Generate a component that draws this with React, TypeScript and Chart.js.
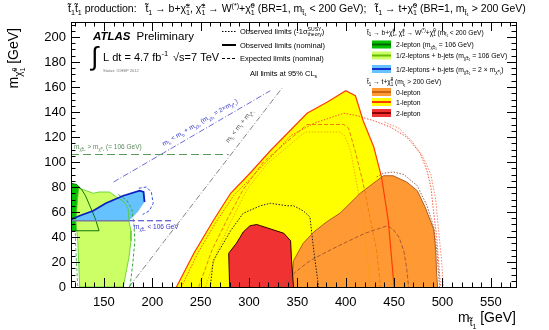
import React, { useEffect, useRef } from "react";
import { Chart, registerables } from "chart.js";

Chart.register(...registerables);

type P = [number, number];

// ---------------- axis ranges & ticks ----------------
const xRange: P = [116, 576];
const yRange: P = [0, 212];
const xTickValues = [150, 200, 250, 300, 350, 400, 450, 500, 550];
const yTickValues = [0, 20, 40, 60, 80, 100, 120, 140, 160, 180, 200];

// ---------------- t1 -> t + chi0 : 1-lepton ----------------
const oneLepObs: P[] = [[225, 0], [243, 27], [263, 53], [281, 75], [301, 91], [322, 109], [336, 120], [360, 139], [381, 148], [400, 157], [410, 153], [418, 133], [429, 112], [437, 88], [444, 53], [450, 0]];
const oneLepExp: P[] = [[248, 0], [262, 30], [278, 55], [294, 78], [315, 100], [339, 116], [360, 130], [398, 130], [403, 127], [410, 108], [418, 83], [425, 56], [432, 29], [436, 0]];
const oneLepExpB: P[] = [[255, 0], [268, 30], [283, 55], [298, 78], [318, 98], [341, 113], [358, 124], [394, 124], [399, 121], [405, 109], [412, 80], [419, 50], [425, 0]];
const oneLepM1: P[] = [[230, 0], [247, 27], [266, 52], [284, 73], [304, 89], [324, 105], [343, 121], [367, 131], [398, 139], [412, 137], [429, 133], [446, 128], [463, 120], [477, 107], [484, 93], [488, 80], [491, 59], [494, 40], [496, 20], [498, 0]];
const oneLepM1b: P[] = [[440, 132], [455, 127], [468, 117], [480, 104], [488, 90], [493, 70], [496, 45], [499, 22], [501, 0]];

// ---------------- t1 -> t + chi0 : 0-lepton ----------------
const zeroLepObs: P[] = [[344, 0], [346, 21], [356, 35], [367, 44], [380, 52], [394, 59], [415, 75], [432, 85], [439, 89], [449, 89], [463, 84], [474, 77], [482, 64], [491, 46], [493, 29], [494, 10], [495, 0]];
const zeroLepExp: P[] = [[332, 0], [348, 12], [363, 21], [380, 28], [398, 35], [420, 43], [443, 49], [449, 46], [455, 40], [460, 29], [463, 15], [465, 0]];
const zeroLepM1: P[] = [[432, 88], [439, 91], [449, 92], [460, 90], [474, 81], [484, 65], [491, 48], [494, 30], [496, 10], [497, 0]];

// ---------------- t1 -> t + chi0 : 2-lepton ----------------
const twoLepObs: P[] = [[280, 0], [279, 27], [287, 35], [291, 40], [294, 44], [301, 49], [308, 50], [312, 49], [336, 43], [343, 37], [344, 21], [346, 0]];
const twoLepExp: P[] = [[260, 0], [263, 21], [281, 45], [294, 59], [312, 65], [322, 67], [339, 65], [346, 65], [356, 61], [363, 56], [367, 29], [370, 11], [372, 0]];

// ---------------- t1 -> b + chargino ----------------
const greenObs: P[] = [[116, 83], [122, 82], [127, 78], [131, 73], [136, 64], [141, 55], [145, 45], [116, 45]];
const limeObs: P[] = [[124, 79], [132, 77], [139, 75], [145, 76], [156, 76], [163, 72], [171, 68], [175, 63], [176, 52], [178, 45], [178, 37], [176, 24], [172, 8], [170, 0], [125, 0], [123, 37], [121, 53], [123, 72]];
const limeExp: P[] = [[165, 74], [174, 69], [179, 62], [181, 50], [182, 37], [180, 20], [177, 0]];
const limeExpLeft: P[] = [[122, 75], [120, 55], [121, 30], [123, 0]];
const blueObs: P[] = [[118, 55], [125, 57], [139, 61], [152, 67], [170, 73], [187, 77], [191, 76], [192, 68], [185, 60], [176, 53], [118, 53]];
const blueObsTop: P[] = [[116, 54], [125, 57], [139, 61], [152, 67], [170, 73], [187, 77], [191, 76], [192, 68]];
const blueObsBottom: P[] = [[116, 53], [176, 53]];
const blueExp: P[] = [[186, 79], [194, 80], [199, 76], [201, 67], [197, 61], [190, 58]];

// ---------------- reference lines ----------------
const charginoLimitLine: P[] = [[116, 106], [279, 106]];
const charginoHalfLine: P[] = [[176, 53], [222, 53]];
const kinTopLine: P[] = [[176, 0], [334, 159]];
const kinBLine: P[] = [[160, 84], [322, 157]];

const FONT = '"Liberation Sans", Arial, Helvetica, sans-serif';
const TL = "\u0303";
const st = "t" + TL;
const chi = "\u03c7" + TL;

const C = {
  yellow: "#ffff00",
  orange: "#ff9933",
  red: "#f03232",
  green: "#00c000",
  lime: "#ccff66",
  blue: "#66c2ff",
};

const pts = (a: P[]) => a.map(([x, y]) => ({ x, y }));

function fillDs(a: P[], color: string) {
  return {
    data: pts(a),
    showLine: true,
    fill: "shape",
    backgroundColor: color,
    borderColor: "rgba(0,0,0,0)",
    borderWidth: 0,
    pointRadius: 0,
    pointHoverRadius: 0,
  };
}
function lineDs(a: P[], color: string, width: number, dash: number[] = [], close = false) {
  const d = close ? [...a, a[0]] : a;
  return {
    data: pts(d),
    showLine: true,
    fill: false,
    borderColor: color,
    backgroundColor: color,
    borderWidth: width,
    borderDash: dash,
    pointRadius: 0,
    pointHoverRadius: 0,
  };
}

// ---------------- rich text helper ----------------
interface Part { t: string; s: number; dy: number; stack?: boolean; style?: string }
function latex(str: string, size: number, style = ""): Part[] {
  const parts: Part[] = [];
  let buf = "";
  let i = 0;
  let lastKind: string | null = null;
  let lastStacked = false;
  const flush = () => {
    if (buf) {
      parts.push({ t: buf, s: size, dy: 0, style });
      buf = "";
      lastKind = null;
    }
  };
  while (i < str.length) {
    const c = str[i];
    if ((c === "_" || c === "^") && str[i + 1] === "{") {
      flush();
      const end = str.indexOf("}", i + 2);
      const t = str.slice(i + 2, end);
      const p: Part = { t, s: size * 0.68, dy: c === "_" ? size * 0.3 : -size * 0.4, style };
      if (lastKind && lastKind !== c && !lastStacked) {
        p.stack = true;
        lastStacked = true;
      } else lastStacked = false;
      lastKind = c;
      parts.push(p);
      i = end + 1;
    } else {
      buf += c;
      i++;
    }
  }
  flush();
  return parts;
}
function drawParts(ctx: CanvasRenderingContext2D, parts: Part[], x: number, y: number, align: string, color: string) {
  ctx.fillStyle = color;
  ctx.textBaseline = "alphabetic";
  ctx.textAlign = "left";
  const pos: number[] = [];
  let cx = 0, prevX = 0, prevW = 0;
  for (const p of parts) {
    ctx.font = `${p.style || ""} ${p.s}px ${FONT}`;
    const w = ctx.measureText(p.t).width;
    if (p.stack) {
      pos.push(prevX);
      prevW = Math.max(prevW, w);
      cx = prevX + prevW;
    } else {
      pos.push(cx);
      prevX = cx;
      prevW = w;
      cx += w;
    }
  }
  const x0 = align === "center" ? x - cx / 2 : align === "right" ? x - cx : x;
  parts.forEach((p, i) => {
    ctx.font = `${p.style || ""} ${p.s}px ${FONT}`;
    ctx.fillText(p.t, x0 + pos[i], y + p.dy);
  });
  return cx;
}
function text(ctx: CanvasRenderingContext2D, s: string, x: number, y: number, size: number, color = "#000", align = "left", style = "") {
  return drawParts(ctx, latex(s, size, style), x, y, align, color);
}

const decorations = {
  id: "decorations",
  afterDraw(chart: any) {
    const ctx: CanvasRenderingContext2D = chart.ctx;
    const { left, right, top, bottom } = chart.chartArea;
    const xs = chart.scales.x;
    const ys = chart.scales.y;
    ctx.save();
    // frame + inward ticks
    ctx.strokeStyle = "#000";
    ctx.lineWidth = 1;
    ctx.beginPath();
    for (let v = 120; v <= 575; v += 10) {
      const px = Math.round(xs.getPixelForValue(v)) + 0.5;
      const len = v % 50 === 0 ? 9 : 4.5;
      ctx.moveTo(px, bottom); ctx.lineTo(px, bottom - len);
      ctx.moveTo(px, top); ctx.lineTo(px, top + len);
    }
    for (let v = 0; v <= 210; v += 5) {
      const py = Math.round(ys.getPixelForValue(v)) + 0.5;
      const len = v % 20 === 0 ? 9 : 4.5;
      ctx.moveTo(left, py); ctx.lineTo(left + len, py);
      ctx.moveTo(right, py); ctx.lineTo(right - len, py);
    }
    ctx.stroke();
    ctx.strokeRect(Math.round(left) + 0.5, Math.round(top) + 0.5, Math.round(right - left), Math.round(bottom - top));

    // axis titles
    drawParts(ctx, [
      { t: "m", s: 14, dy: 0 },
      { t: st, s: 10, dy: 4 },
      { t: "1", s: 7, dy: 7 },
      { t: " [GeV]", s: 14, dy: 0 },
    ], 516, 322, "right", "#000");
    ctx.save();
    ctx.translate(18, 28);
    ctx.rotate(-Math.PI / 2);
    drawParts(ctx, [
      { t: "m", s: 14, dy: 0 },
      { t: chi, s: 10, dy: 4 },
      { t: "0", s: 7, dy: -1 },
      { t: "1", s: 7, dy: 7, stack: true },
      { t: " [GeV]", s: 14, dy: 0 },
    ], 0, 0, "right", "#000");
    ctx.restore();

    // header
    text(ctx, `${st}_{1}${st}_{1} production:   ${st}_{1} \u2192 b+${chi}^{\u00b1}_{1}, ${chi}^{\u00b1}_{1} \u2192 W^{(*)}+${chi}^{0}_{1} (BR=1, m_{${st}\u2081} < 200 GeV);   ${st}_{1} \u2192 t+${chi}^{0}_{1} (BR=1, m_{${st}\u2081} > 200 GeV)`, 68, 12, 10.5);

    // ATLAS label
    const w = text(ctx, "ATLAS", 93, 39.5, 11.5, "#000", "left", "italic bold");
    text(ctx, "Preliminary", 93 + w + 6, 39.5, 11.5);
    ctx.font = `26px ${FONT}`;
    ctx.fillStyle = "#000";
    ctx.fillText("\u222b", 91, 65);
    text(ctx, "L dt = 4.7 fb^{-1}", 103, 60.5, 11);
    text(ctx, "\u221as=7 TeV", 173, 60.5, 11);
    text(ctx, "Status: ICHEP 2012", 103, 72, 4, "#777");

    // style legend
    ctx.strokeStyle = "#000";
    ctx.lineWidth = 1;
    ctx.setLineDash([1.5, 1.5]);
    ctx.beginPath(); ctx.moveTo(222, 31.5); ctx.lineTo(236, 31.5); ctx.stroke();
    ctx.setLineDash([]);
    ctx.lineWidth = 2;
    ctx.beginPath(); ctx.moveTo(222, 45); ctx.lineTo(236, 45); ctx.stroke();
    ctx.lineWidth = 1;
    ctx.setLineDash([3, 2]);
    ctx.beginPath(); ctx.moveTo(222, 58.5); ctx.lineTo(236, 58.5); ctx.stroke();
    ctx.setLineDash([]);
    text(ctx, "Observed limits (-1\u03c3^{SUSY}_{theory})", 240, 34, 7.5);
    text(ctx, "Observed limits (nominal)", 240, 47.5, 7.5);
    text(ctx, "Expected limits (nominal)", 240, 61, 7.5);
    text(ctx, "All limits at 95% CL_{s}", 250, 75.5, 7.5);

    // signal legend
    text(ctx, `${st}_{1} \u2192 b+${chi}^{\u00b1}_{1}, ${chi}^{\u00b1}_{1} \u2192 W^{(*)}+${chi}^{0}_{1} (m_{${st}\u2081} < 200 GeV)`, 367, 34.5, 6.6);
    text(ctx, `${st}_{1} \u2192 t+${chi}^{0}_{1} (m_{${st}\u2081} > 200 GeV)`, 367, 84, 6.6);
    const entries: [number, string, string, string][] = [
      [44.5, C.green, "#006400", `2-lepton (m_{${chi}\u00b1\u2081} = 106 GeV)`],
      [55.5, C.lime, "#66bb00", `1/2-leptons + b-jets (m_{${chi}\u00b1\u2081} = 106 GeV)`],
      [69, C.blue, "#1030d0", `1/2-leptons + b-jets (m_{${chi}\u00b1\u2081} = 2 \u00d7 m_{${chi}\u2070\u2081})`],
      [92, C.orange, "#c86414", "0-lepton"],
      [102, C.yellow, "#ff3c00", "1-lepton"],
      [113, C.red, "#8b0000", "2-lepton"],
    ];
    for (const [cy, fill, line, label] of entries) {
      ctx.fillStyle = fill;
      ctx.fillRect(372, cy - 4, 19, 8);
      ctx.strokeStyle = line;
      ctx.lineWidth = 2;
      ctx.beginPath(); ctx.moveTo(372, cy); ctx.lineTo(391, cy); ctx.stroke();
      text(ctx, label, 396, cy + 2.5, 6.8);
    }

    // in-plot annotations
    text(ctx, `m_{${chi}\u00b1\u2081} > m_{${chi}\u2070\u2081} (= 106 GeV)`, 74, 149, 6.5, "#5a8a5a");
    text(ctx, `m_{${chi}\u00b1\u2081} < 106 GeV`, 134, 229, 6.5, "#3333cc");
    ctx.save();
    ctx.translate(201, 124);
    ctx.rotate(-30.5 * Math.PI / 180);
    text(ctx, `m_{${st}\u2081} < m_{b} + m_{${chi}\u00b1\u2081} (m_{${chi}\u00b1\u2081} = 2\u00d7m_{${chi}\u2070\u2081})`, 0, 0, 6.5, "#3333cc", "center");
    ctx.restore();
    ctx.save();
    ctx.translate(241, 127);
    ctx.rotate(-52 * Math.PI / 180);
    text(ctx, `m_{${st}\u2081} < m_{t} + m_{${chi}\u2070\u2081}`, 0, 0, 6.5, "#555", "center");
    ctx.restore();

    ctx.restore();
  },
};

export default function App() {
  const ref = useRef<HTMLCanvasElement | null>(null);
  useEffect(() => {
    if (!ref.current) return;
    // bottom-to-top layer list
    const layers: any[] = [
      fillDs(greenObs, C.green),
      fillDs(limeObs, C.lime),
      fillDs(blueObs, C.blue),
      fillDs(oneLepObs, C.yellow),
      fillDs(zeroLepObs, C.orange),
      fillDs(twoLepObs, C.red),
      lineDs(kinTopLine, "#666", 0.8, [6, 2, 1, 2]),
      lineDs(kinBLine, "#4444cc", 0.8, [6, 2, 1, 2]),
      lineDs(charginoLimitLine, "#5a9a5a", 1, [8, 4]),
      lineDs(charginoHalfLine, "#3333cc", 1, [6, 3]),
      lineDs(limeExp, "#33aa33", 1, [3, 2]),
      lineDs(limeExpLeft, "#33aa33", 0.8, [3, 2]),
      lineDs(limeObs, "#55cc22", 0.8, [], true),
      lineDs(greenObs, "#006400", 0.9, [], true),
      lineDs(blueExp, "#2244dd", 0.9, [3, 2]),
      lineDs(blueObsBottom, "#7777aa", 1.5),
      lineDs(blueObsTop, "#0a1fbf", 1.8),
      lineDs(oneLepExp, "#f08000", 1, [4, 2]),
      lineDs(oneLepExpB, "#f0a000", 0.8, [1.5, 1.5]),
      lineDs(oneLepM1, "#ff4422", 0.9, [1.5, 1.5]),
      lineDs(oneLepM1b, "#ff6644", 0.8, [1.5, 1.5]),
      lineDs(zeroLepExp, "#a0522d", 0.9, [4, 2]),
      lineDs(zeroLepM1, "#885544", 0.9, [1.5, 1.5]),
      lineDs(twoLepExp, "#222", 1, [1.5, 1.5]),
      lineDs(oneLepObs, "#ff3c00", 1.2),
      lineDs(zeroLepObs, "#b35a1f", 1),
      lineDs(twoLepObs, "#300", 1),
    ];
    const n = layers.length;
    layers.forEach((d, i) => (d.order = n - i));

    const chart = new Chart(ref.current, {
      type: "scatter",
      data: { datasets: layers },
      options: {
        animation: false,
        responsive: false,
        maintainAspectRatio: false,
        devicePixelRatio: 1,
        layout: { padding: { left: 0, top: 22, right: 33, bottom: 0 } },
        plugins: { legend: { display: false }, tooltip: { enabled: false } },
        elements: { line: { tension: 0 } },
        scales: {
          x: {
            type: "linear",
            min: xRange[0],
            max: xRange[1],
            grid: { display: false, drawTicks: false },
            border: { display: false },
            afterBuildTicks: (s: any) => { s.ticks = xTickValues.map((v) => ({ value: v })); },
            afterFit: (s: any) => { s.height = 43; },
            ticks: { font: { family: FONT, size: 13 }, color: "#000", padding: 8, maxRotation: 0, autoSkip: false },
          },
          y: {
            type: "linear",
            min: yRange[0],
            max: yRange[1],
            grid: { display: false, drawTicks: false },
            border: { display: false },
            afterBuildTicks: (s: any) => { s.ticks = yTickValues.map((v) => ({ value: v })); },
            afterFit: (s: any) => { s.width = 71; },
            ticks: { font: { family: FONT, size: 13 }, color: "#000", padding: 5, autoSkip: false },
          },
        },
      } as any,
      plugins: [decorations],
    });
    return () => chart.destroy();
  }, []);
  return (
    <div style={{ position: "fixed", left: 0, top: 0, width: 549, height: 330, background: "#fff" }}>
      <canvas ref={ref} width={549} height={330} style={{ display: "block", width: 549, height: 330 }} />
    </div>
  );
}
